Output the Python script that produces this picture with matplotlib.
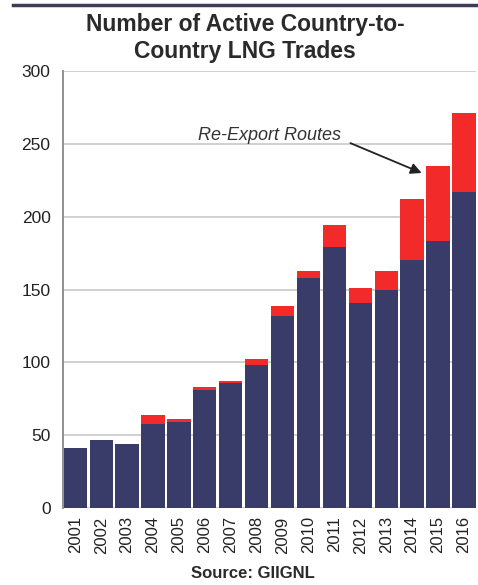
import matplotlib.pyplot as plt
import numpy as np

plt.rcParams['font.family'] = ['Liberation Sans', 'DejaVu Sans']

years = ['2001', '2002', '2003', '2004', '2005', '2006', '2007', '2008',
         '2009', '2010', '2011', '2012', '2013', '2014', '2015', '2016']
direct_trades = [41, 47, 44, 58, 59, 81, 86, 98, 132, 158, 179, 141, 150, 170, 183, 217]
reexport_trades = [0, 0, 0, 6, 2, 2, 1, 4, 7, 5, 15, 10, 13, 42, 52, 54]

navy = '#393b69'
red = '#f32a2a'

fig = plt.figure(figsize=(4.78, 5.85), dpi=100)
ax = fig.add_axes([0.132, 0.1316, 0.864, 0.747])

x = np.arange(len(years))
ax.bar(x, direct_trades, width=0.9, color=navy, zorder=2)
ax.bar(x, reexport_trades, width=0.9, bottom=direct_trades, color=red, zorder=2)

ax.set_ylim(0, 300)
ax.set_xlim(-0.47, len(years) - 0.53)
ax.set_yticks(range(0, 301, 50))
ax.yaxis.grid(True, color='#c8c8c8', linewidth=1.2, zorder=0)
ax.set_xticks(x)
ax.set_xticklabels(years, rotation=90, fontsize=12, color='#222222')
ax.tick_params(axis='y', labelsize=12.5, colors='#222222', length=0, pad=9)
ax.tick_params(axis='x', length=0, pad=6)

for side in ['top', 'right', 'bottom']:
    ax.spines[side].set_visible(False)
ax.spines['left'].set_color('#888888')
ax.spines['left'].set_linewidth(1.3)

# callout pointing at the re-export slices
ax.text(7.5, 256, 'Re-Export Routes', fontsize=13, style='italic',
        color='#333333', ha='center', va='center')
ax.annotate('', xy=(13.37, 230), xytext=(10.62, 250.5),
            arrowprops=dict(arrowstyle='-|>', color='#222222', lw=1.3,
                            mutation_scale=16, shrinkA=0, shrinkB=0))

fig.text(0.513, 0.935, 'Number of Active Country-to-\nCountry LNG Trades',
         ha='center', va='center', fontsize=16.5, fontweight='bold',
         color='#2a2a2a', linespacing=1.25)
fig.text(0.529, 0.02, 'Source: GIIGNL', ha='center', va='center',
         fontsize=12, fontweight='bold', color='#2a2a2a')

# dark rule across the top
fig.add_artist(plt.Line2D([0.027, 1.0], [0.991, 0.991], color='#3c3b58',
                          linewidth=2.5, transform=fig.transFigure))

fig.savefig('out.png', dpi=100, facecolor='white')
